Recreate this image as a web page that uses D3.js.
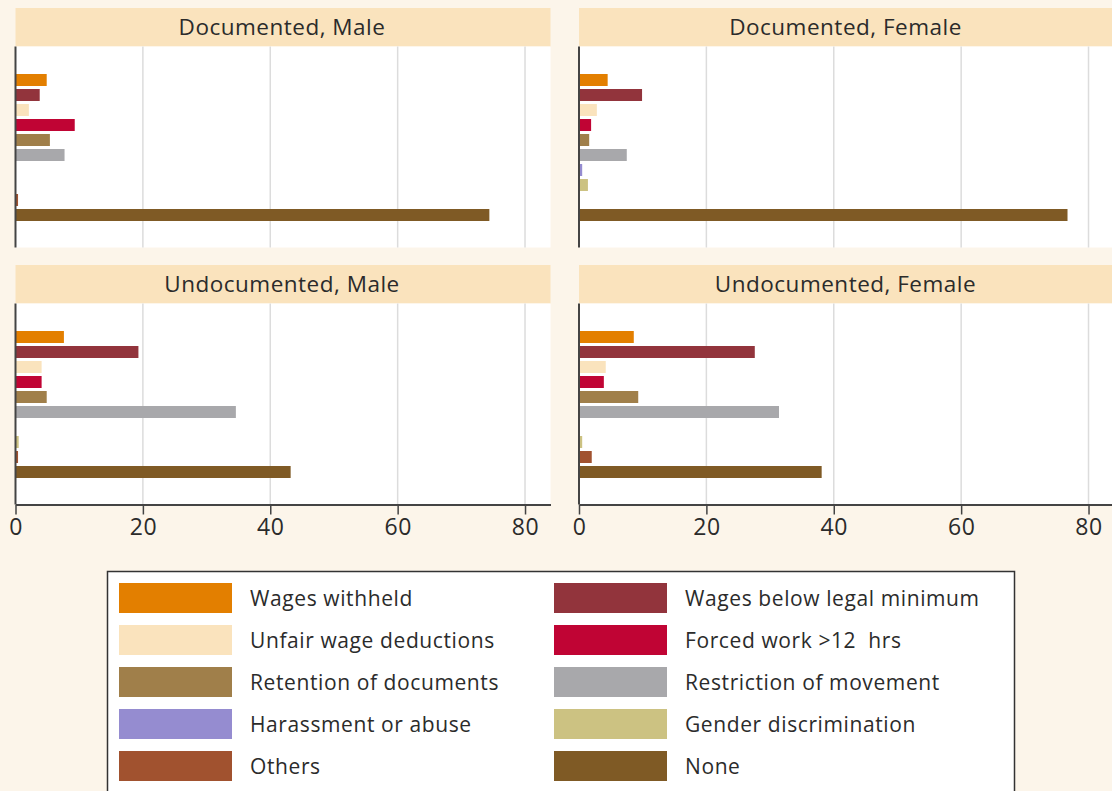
<!DOCTYPE html>
<html lang="en">
<head>
    <meta charset="UTF-8">
    <title>Labour abuses by status and sex</title>
    <script src="https://d3js.org/d3.v7.min.js"></script>
    <style>
        body { margin: 0; background: #fcf5ea; }
        svg { display: block; font-family: "Open Sans", Lato, sans-serif; }
    </style>
</head>
<body>
    <div id="chart"></div>

    <script>
        // categories, in bar order (top to bottom)
        var categories = [
            "Wages withheld", "Wages below legal minimum", "Unfair wage deductions",
            "Forced work >12  hrs", "Retention of documents", "Restriction of movement",
            "Harassment or abuse", "Gender discrimination", "Others", "None"
        ];
        var colors = [
            "#e37f00", "#92343c", "#fae3bd", "#c00434", "#a07f4a",
            "#a8a8ab", "#958cd0", "#ccc282", "#a1522f", "#7f5a25"
        ];

        // percentages
        var docMale     = [4.9, 3.8, 2.1, 9.3, 5.4, 7.7, 0, 0, 0.4, 74.4];
        var docFemale   = [4.5, 9.9, 2.8, 1.9, 1.6, 7.5, 0.5, 1.4, 0.1, 76.7];
        var undocMale   = [7.6, 19.3, 4.1, 4.1, 4.9, 34.6, 0, 0.5, 0.4, 43.2];
        var undocFemale = [8.6, 27.6, 4.2, 3.9, 9.3, 31.4, 0, 0.5, 2.0, 38.1];

        var panelTitles = ["Documented, Male", "Documented, Female", "Undocumented, Male", "Undocumented, Female"];
        var panelValues = [docMale, docFemale, undocMale, undocFemale];
        var tickValues = [0, 20, 40, 60, 80];

        var width = 1112, height = 791;
        var svg = d3.select("#chart").append("svg")
            .attr("width", width)
            .attr("height", height);

        var panelW = 535, headH = 38.5, plotH = 201;
        var colX = [15.5, 579];
        var rowY = [8, 265];

        panelTitles.forEach(function(title, i) {
            var left = colX[i % 2];
            var top = rowY[Math.floor(i / 2)];
            var plotTop = top + headH;
            var plotBottom = plotTop + plotH;
            var bottomRow = i >= 2;

            var x = d3.scaleLinear().domain([0, 84]).range([left, left + panelW]);
            var y = d3.scaleBand().domain(categories)
                .range([plotTop + 26, plotTop + 176])
                .paddingInner(0.2).paddingOuter(0.1);

            var g = svg.append("g");

            // header strip
            g.append("rect")
                .attr("x", left).attr("y", top)
                .attr("width", panelW).attr("height", headH)
                .attr("fill", "#fae3bd");
            g.append("text")
                .attr("x", left + panelW / 2 - 1)
                .attr("y", top + headH / 2 + 8)
                .attr("text-anchor", "middle")
                .attr("font-size", 22.5)
                .attr("letter-spacing", 0.5)
                .attr("fill", "#2b2b2b")
                .text(title);

            // plot area
            g.append("rect")
                .attr("x", left).attr("y", plotTop)
                .attr("width", panelW).attr("height", plotH)
                .attr("fill", "#fff");

            // gridlines
            g.selectAll(".grid")
                .data(tickValues.slice(1))
                .enter().append("line")
                .attr("x1", function(d) { return x(d); })
                .attr("x2", function(d) { return x(d); })
                .attr("y1", plotTop).attr("y2", plotBottom)
                .attr("stroke", "#dcdcdc")
                .attr("stroke-width", 1.5);

            // bars
            g.selectAll(".bar")
                .data(panelValues[i])
                .enter().append("rect")
                .attr("x", x(0))
                .attr("y", function(d, j) { return y(categories[j]); })
                .attr("width", function(d) { return x(d) - x(0); })
                .attr("height", y.bandwidth())
                .attr("fill", function(d, j) { return colors[j]; });

            // left axis line
            g.append("line")
                .attr("x1", x(0)).attr("x2", x(0))
                .attr("y1", plotTop).attr("y2", plotBottom)
                .attr("stroke", "#444")
                .attr("stroke-width", 2);

            if (bottomRow) {
                var axis = g.append("g")
                    .attr("transform", "translate(0," + plotBottom + ")")
                    .call(d3.axisBottom(x).tickValues(tickValues).tickSize(10).tickSizeOuter(0).tickPadding(4));
                axis.select(".domain").attr("stroke", "#444").attr("stroke-width", 2);
                axis.selectAll(".tick line").attr("stroke", "#444").attr("stroke-width", 1.5);
                axis.selectAll(".tick text")
                    .attr("font-size", 23)
                    .attr("letter-spacing", 0.5)
                    .attr("font-family", "'Open Sans', Lato, sans-serif")
                    .attr("fill", "#2b2b2b");
            }
        });

        // legend
        var legend = svg.append("g");
        legend.append("rect")
            .attr("x", 107.5).attr("y", 571.5)
            .attr("width", 907).attr("height", 240)
            .attr("fill", "#fff")
            .attr("stroke", "#333")
            .attr("stroke-width", 1.5);

        var item = legend.selectAll(".item")
            .data(categories)
            .enter().append("g")
            .attr("transform", function(d, j) {
                return "translate(" + (j % 2 === 0 ? 119 : 554) + "," + (583 + Math.floor(j / 2) * 42) + ")";
            });
        item.append("rect")
            .attr("width", 113).attr("height", 30)
            .attr("fill", function(d, j) { return colors[j]; });
        item.append("text")
            .attr("x", 131).attr("y", 23)
            .attr("font-size", 21)
            .attr("letter-spacing", 0.6)
            .attr("fill", "#2b2b2b")
            .style("white-space", "pre")
            .text(function(d) { return d; });
    </script>
</body>
</html>
